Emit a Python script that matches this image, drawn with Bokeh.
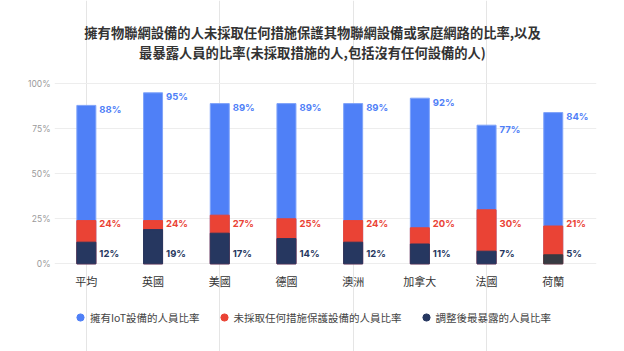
from bokeh.plotting import figure
from bokeh.models import (Range1d, ColumnDataSource, Legend, LegendItem,
                          PrintfTickFormatter, FixedTicker)
from bokeh.core.properties import value
from bokeh.embed import file_html
from bokeh.resources import INLINE

# ---- data ----
categories = ["平均", "英國", "美國", "德國", "澳洲", "加拿大", "法國", "荷蘭"]
iot_owners = [88, 95, 89, 89, 89, 92, 77, 84]
no_action = [24, 24, 27, 25, 24, 20, 30, 21]
most_exposed = [12, 19, 17, 14, 12, 11, 7, 5]
y_ticks = [0, 25, 50, 75, 100]
series_names = ["擁有IoT設備的人員比率", "未採取任何措施保護設備的人員比率", "調整後最暴露的人員比率"]
title_lines = ["擁有物聯網設備的人未採取任何措施保護其物聯網設備或家庭網路的比率,以及",
               "最暴露人員的比率(未採取措施的人,包括沒有任何設備的人)"]

# ---- styles / layout ----
BLUE = "#4F80F7"
RED = "#EA4335"
NAVY = "#263760"
DARK_GRAY = "#373A42"
exposed_colors = [NAVY] * (len(categories) - 1) + [DARK_GRAY]
CJK = "Noto Sans CJK TC"
LAT = "Inter"

W, H = 624, 351
FRAME_L, FRAME_R = 54, 596          # plot frame in pixels (full height)
ZERO_PX, TOP_PX = 263.3, 83.3       # pixel rows of 0% and 100%
SLOT_PX = 66.7                      # category spacing in pixels
FIRST_PX = 85.85                    # pixel centre of first category

X0 = -(FIRST_PX - FRAME_L) / SLOT_PX
X1 = X0 + (FRAME_R - FRAME_L) / SLOT_PX
PX_PER_UNIT = (ZERO_PX - TOP_PX) / (y_ticks[-1] - y_ticks[0])
Y0 = -(H - ZERO_PX) / PX_PER_UNIT
Y1 = y_ticks[-1] + TOP_PX / PX_PER_UNIT


def x_at(px):
    return X0 + (px - FRAME_L) / SLOT_PX


def y_at(py):
    return (ZERO_PX - py) / PX_PER_UNIT


idx = list(range(len(categories)))
src = ColumnDataSource(dict(
    x=idx,
    cat=categories,
    iot=iot_owners,
    noact=no_action,
    exp=most_exposed,
    exp_color=exposed_colors,
    iot_lbl=[f"{v}%" for v in iot_owners],
    noact_lbl=[f"{v}%" for v in no_action],
    exp_lbl=[f"{v}%" for v in most_exposed],
))

p = figure(width=W, height=H,
           x_range=Range1d(X0, X1), y_range=Range1d(Y0, Y1),
           x_axis_location=None,
           output_backend="svg", toolbar_location=None,
           min_border_left=FRAME_L, min_border_right=W - FRAME_R,
           min_border_top=0, min_border_bottom=0)
p.outline_line_color = None

bw = 19 / SLOT_PX
p.vbar(x="x", top="iot", width=bw, source=src,
       fill_color=BLUE, line_color="#7FA3F9", line_width=1)
p.vbar(x="x", top="noact", width=bw, source=src,
       fill_color=RED, line_color=RED, line_width=1)
p.vbar(x="x", top="exp", width=bw, source=src,
       fill_color="exp_color", line_color="exp_color", line_width=1)

lbl_kw = dict(source=src, x_offset=13, text_align="left", text_baseline="middle",
              text_font=value(LAT), text_font_size="9.5px", text_font_style="bold")
p.text(x="x", y="iot", text="iot_lbl", y_offset=4, text_color=BLUE, **lbl_kw)
p.text(x="x", y=0, text="noact_lbl", y_offset=-40.5, text_color=RED, **lbl_kw)
p.text(x="x", y=0, text="exp_lbl", y_offset=-10, text_color=NAVY, **lbl_kw)

# category labels under the bars
p.text(x="x", y=0, text="cat", source=src, y_offset=17,
       text_align="center", text_baseline="middle",
       text_font=value(CJK), text_font_size="11px", text_color="#333333")

# two-line title centred on the canvas
tsrc = ColumnDataSource(dict(x=[x_at(W / 2)] * 2, y=[y_at(31.5), y_at(51.7)], text=title_lines))
p.text(x="x", y="y", text="text", source=tsrc, text_align="center", text_baseline="middle",
       text_font=value(CJK), text_font_size="13.3px", text_font_style="bold",
       text_color="#333333")

# y axis & grid
ticker = FixedTicker(ticks=y_ticks)
p.yaxis.ticker = ticker
p.ygrid.ticker = ticker
p.ygrid.grid_line_color = "#EDEDED"
p.ygrid.grid_line_width = 1
p.yaxis.formatter = PrintfTickFormatter(format="%d%%")
p.yaxis.axis_line_color = None
p.yaxis.major_tick_line_color = None
p.yaxis.minor_tick_line_color = None
p.yaxis.major_tick_out = 0
p.yaxis.major_tick_in = 0
p.yaxis.major_label_text_font = LAT
p.yaxis.major_label_text_font_size = "8.5px"
p.yaxis.major_label_text_color = "#9A9A9A"
p.yaxis.major_label_standoff = 4

# legend with circle markers (marker renderers hold no drawable point)
dummies = []
for c in [BLUE, RED, NAVY]:
    dummies.append(p.scatter(x=[float("nan")], y=[float("nan")], marker="circle",
                             size=7, fill_color=c, line_color=c))
legend = Legend(items=[LegendItem(label=n, renderers=[d]) for n, d in zip(series_names, dummies)],
                orientation="horizontal", location=(17, 25),
                glyph_width=18, glyph_height=18, label_height=18, label_standoff=1,
                spacing=15, padding=0, margin=0,
                border_line_color=None, background_fill_alpha=0,
                label_text_font=CJK, label_text_font_size="10.5px",
                label_text_color="#444444")
p.add_layout(legend, "center")

open("out.html", "w").write(file_html(p, INLINE))
